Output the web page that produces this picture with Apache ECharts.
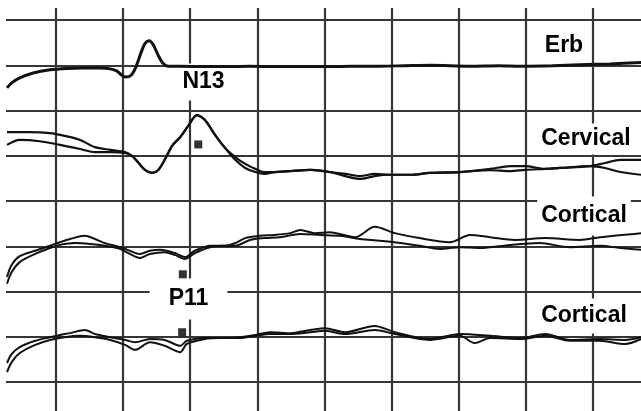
<!DOCTYPE html>
<html>
<head>
<meta charset="utf-8">
<script src="https://cdn.jsdelivr.net/npm/echarts@6/dist/echarts.min.js"></script>
<style>
html,body{margin:0;padding:0;background:#fff;}
#chart{width:641px;height:411px;}
</style>
</head>
<body>
<div id="chart"></div>
<script>
// ---- DATA (time in grid divisions, amplitude in grid divisions relative to channel baseline) ----
const channelNames = ['Erb', 'Cervical', 'Cortical', 'Cortical'];
const channelBaseline = [8, 6, 4, 2];
const timeDivisions = [0, 1, 2, 3, 4, 5, 6, 7, 8, 9, 10];
const amplitudeDivisions = [0, 1, 2, 3, 4, 5, 6, 7, 8, 9, 10];

const erbTrace = [
  [0.27,-0.50],[0.34,-0.39],[0.46,-0.28],[0.66,-0.17],[0.91,-0.10],[1.16,-0.07],[1.40,-0.06],[1.66,-0.06],
  [1.81,-0.08],[1.91,-0.13],[1.98,-0.22],[2.04,-0.26],[2.12,-0.22],[2.19,-0.04],[2.27,0.29],[2.33,0.49],
  [2.39,0.54],[2.45,0.45],[2.52,0.23],[2.59,0.05],[2.67,-0.02],[2.85,-0.02],[3.40,-0.03],[3.89,-0.02],
  [4.40,-0.03],[4.94,-0.03],[5.40,-0.02],[5.83,-0.02],[6.20,-0.01],[6.58,0.00],[7.17,-0.02],[7.60,-0.01],
  [7.92,-0.02],[8.40,-0.01],[8.81,0.01],[9.26,0.03],[9.72,0.06]
];

const cervicalTraceA = [
  [0.27,0.52],[0.61,0.52],[0.91,0.50],[1.13,0.44],[1.36,0.35],[1.58,0.19],[1.81,0.13],[2.03,0.08],
  [2.13,0.00],[2.22,-0.14],[2.33,-0.32],[2.43,-0.38],[2.52,-0.32],[2.62,-0.09],[2.73,0.22],[2.85,0.41],
  [2.97,0.66],[3.10,0.90],[3.22,0.79],[3.37,0.46],[3.52,0.17],[3.67,-0.03],[3.82,-0.18],[3.97,-0.29],
  [4.11,-0.36],[4.26,-0.36],[4.49,-0.34],[4.79,-0.31],[5.08,-0.36],[5.31,-0.40],[5.53,-0.45],[5.75,-0.40],
  [5.98,-0.42],[6.28,-0.42],[6.57,-0.38],[7.02,-0.36],[7.47,-0.29],[7.77,-0.23],[7.99,-0.23],[8.29,-0.29],
  [8.51,-0.27],[8.96,-0.23],[9.18,-0.16],[9.41,-0.09],[9.72,-0.09]
];
const cervicalTraceB = [
  [0.27,0.24],[0.46,0.35],[0.76,0.32],[1.06,0.24],[1.36,0.15],[1.58,0.08],[1.81,0.08],[2.03,0.06],
  [2.13,0.00],[2.22,-0.14],[2.33,-0.32],[2.43,-0.38],[2.52,-0.32],[2.62,-0.09],[2.73,0.22],[2.85,0.41],
  [2.97,0.66],[3.10,0.90],[3.22,0.79],[3.37,0.46],[3.52,0.17],[3.67,-0.09],[3.82,-0.27],[3.97,-0.36],
  [4.11,-0.40],[4.26,-0.36],[4.49,-0.34],[4.79,-0.31],[5.08,-0.36],[5.31,-0.45],[5.53,-0.51],[5.75,-0.45],
  [5.98,-0.42],[6.28,-0.42],[6.57,-0.38],[7.02,-0.36],[7.47,-0.32],[7.77,-0.34],[7.99,-0.31],[8.29,-0.29],
  [8.51,-0.27],[8.96,-0.23],[9.18,-0.27],[9.41,-0.36],[9.72,-0.42]
];

const corticalUpperTraceA = [
  [0.27,-0.68],[0.34,-0.41],[0.46,-0.22],[0.69,-0.10],[0.91,0.01],[1.06,0.09],[1.21,0.16],[1.43,0.23],
  [1.58,0.16],[1.73,0.07],[1.96,-0.02],[2.10,-0.10],[2.25,-0.17],[2.40,-0.10],[2.55,-0.08],[2.77,-0.15],
  [2.92,-0.24],[3.07,-0.10],[3.30,0.01],[3.52,0.01],[3.67,0.07],[3.82,0.18],[4.04,0.23],[4.26,0.25],
  [4.49,0.29],[4.64,0.36],[4.86,0.29],[5.08,0.31],[5.46,0.20],[5.75,0.43],[6.05,0.29],[6.42,0.18],
  [6.87,0.09],[7.17,0.25],[7.47,0.20],[7.84,0.14],[8.29,0.18],[8.81,0.14],[9.11,0.20],[9.72,0.29]
];
const corticalUpperTraceB = [
  [0.27,-0.83],[0.34,-0.57],[0.46,-0.35],[0.69,-0.17],[0.91,-0.04],[1.06,0.03],[1.28,0.07],[1.51,0.05],
  [1.73,0.01],[1.96,-0.06],[2.10,-0.17],[2.25,-0.26],[2.40,-0.17],[2.62,-0.13],[2.77,-0.19],[2.92,-0.28],
  [3.07,-0.15],[3.30,-0.02],[3.52,0.01],[3.67,0.01],[3.89,0.14],[4.11,0.18],[4.34,0.20],[4.64,0.27],
  [4.94,0.25],[5.23,0.23],[5.53,0.16],[5.83,0.12],[6.13,0.07],[6.42,0.01],[6.72,-0.06],[7.02,-0.02],
  [7.32,-0.04],[7.77,0.03],[8.21,0.07],[8.66,-0.02],[9.11,0.01],[9.41,-0.04],[9.72,-0.08]
];

const corticalLowerTraceA = [
  [0.27,-0.58],[0.34,-0.38],[0.46,-0.23],[0.69,-0.09],[0.91,-0.01],[1.06,0.04],[1.21,0.08],[1.43,0.15],
  [1.58,0.06],[1.81,-0.01],[2.03,-0.07],[2.18,-0.12],[2.40,-0.05],[2.62,-0.07],[2.85,-0.20],[2.95,-0.09],
  [3.22,-0.03],[3.44,-0.03],[3.74,-0.01],[3.97,0.04],[4.19,0.10],[4.49,0.08],[4.79,0.15],[5.01,0.19],
  [5.31,0.10],[5.75,0.24],[6.05,0.10],[6.57,-0.05],[7.02,0.06],[7.47,0.02],[7.92,-0.03],[8.29,0.06],
  [8.66,-0.07],[9.11,-0.05],[9.48,-0.07],[9.72,-0.01]
];
const corticalLowerTraceB = [
  [0.27,-0.78],[0.34,-0.56],[0.46,-0.36],[0.69,-0.18],[0.91,-0.07],[1.13,-0.01],[1.36,0.02],[1.58,-0.01],
  [1.81,-0.07],[2.03,-0.18],[2.18,-0.29],[2.40,-0.12],[2.62,-0.20],[2.85,-0.34],[2.95,-0.16],[3.22,-0.05],
  [3.44,-0.03],[3.74,-0.03],[3.97,0.02],[4.19,0.06],[4.49,0.06],[4.79,0.10],[5.01,0.13],[5.31,0.06],
  [5.75,0.15],[6.05,0.06],[6.57,-0.07],[7.02,0.02],[7.24,-0.14],[7.47,-0.03],[7.92,-0.05],[8.29,0.02],
  [8.66,-0.09],[9.11,-0.09],[9.48,-0.16],[9.72,-0.05]
];

// peak markers: [channel index, time, amplitude]
const peakMarkers = [[1, 3.12, 0.25], [2, 2.89, -0.62], [3, 2.88, 0.10]];
const peakLabels = ['N13', 'P11'];

// ---- CHART ----
const chart = echarts.init(document.getElementById('chart'), null, {renderer: 'canvas'});
const shift = (trace, ch) => trace.map(p => [p[0], p[1] + channelBaseline[ch]]);

const gridColor = '#363636';
const traceColor = '#111';
const tMin = timeDivisions[0], tMax = timeDivisions[timeDivisions.length - 1];
const aMin = amplitudeDivisions[0], aMax = amplitudeDivisions[amplitudeDivisions.length - 1];

function valAxis(gridIndex, min, max, showSplit) {
  return {
    type: 'value', gridIndex, min, max, interval: 1,
    axisLine: {show: false}, axisTick: {show: false}, axisLabel: {show: false},
    splitLine: {show: showSplit, lineStyle: {color: gridColor, width: 2.2}}
  };
}

function lineSeries(data, width) {
  return {
    type: 'line', xAxisIndex: 0, yAxisIndex: 0, data, showSymbol: false, smooth: 0.3,
    lineStyle: {color: traceColor, width}, silent: true, z: 5
  };
}

const font = 'bold 23px "Liberation Sans", Arial, Helvetica, sans-serif';
function label(text, x, y, padding) {
  return {
    type: 'text', x, y, z: 1,
    style: {text, font, fill: '#000', textAlign: 'center', textVerticalAlign: 'middle',
            backgroundColor: '#fff', padding}
  };
}

const option = {
  animation: false,
  backgroundColor: '#fff',
  grid: [
    {left: -11.1, right: -18.9, top: -25.25, bottom: -16.25, containLabel: false, outerBoundsMode: 'none'},
    {left: -11.1, right: -18.9, top: 8, bottom: -16.25, containLabel: false, outerBoundsMode: 'none'},
    {left: 6, right: -18.9, top: -25.25, bottom: -16.25, containLabel: false, outerBoundsMode: 'none'}
  ],
  xAxis: [
    valAxis(0, tMin, tMax, false),
    valAxis(1, tMin, tMax, true),
    valAxis(2, tMin, tMax, false)
  ],
  yAxis: [
    valAxis(0, aMin, aMax, false),
    valAxis(1, aMin, aMax, false),
    valAxis(2, aMin, aMax, true)
  ],
  series: [
    lineSeries(shift(erbTrace, 0), 3),
    lineSeries(shift(cervicalTraceA, 1), 2.2),
    lineSeries(shift(cervicalTraceB, 1), 2.2),
    lineSeries(shift(corticalUpperTraceA, 2), 2),
    lineSeries(shift(corticalUpperTraceB, 2), 2),
    lineSeries(shift(corticalLowerTraceA, 3), 2),
    lineSeries(shift(corticalLowerTraceB, 3), 2),
    {
      type: 'scatter', xAxisIndex: 0, yAxisIndex: 0, symbol: 'rect', symbolSize: 8,
      itemStyle: {color: '#000'}, z: 6, silent: true,
      data: peakMarkers.map(m => [m[1], m[2] + channelBaseline[m[0]]])
    }
  ],
  graphic: [
    label(channelNames[0], 564, 46, [4, 4]),
    label(channelNames[1], 586, 139, [4, 4]),
    label(channelNames[2], 584, 216, [8, 4]),
    label(channelNames[3], 584, 316, [6, 4]),
    label(peakLabels[0], 203.5, 82, [7, 4]),
    label(peakLabels[1], 188.5, 299, [9, 19])
  ]
};
chart.setOption(option);
</script>
</body>
</html>
